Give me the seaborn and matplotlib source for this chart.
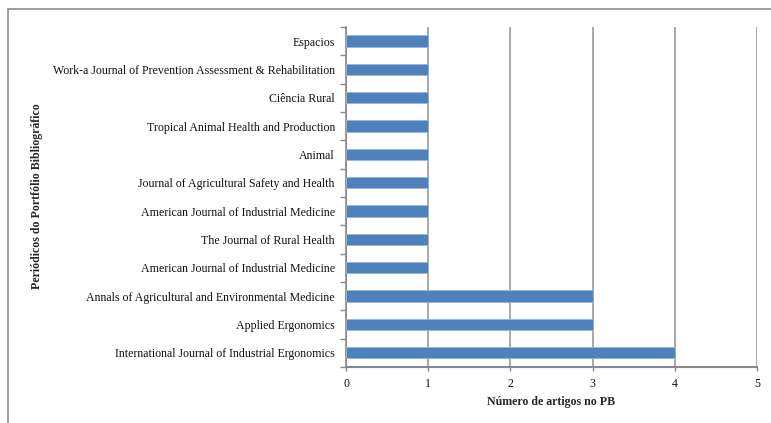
import pandas as pd
import matplotlib.pyplot as plt
import seaborn as sns
from matplotlib.patches import Rectangle
from matplotlib.ticker import FixedLocator

# Journals listed top to bottom as in the chart
journals = [
    "Espacios",
    "Work-a Journal of Prevention Assessment & Rehabilitation",
    "Ciência Rural",
    "Tropical Animal Health and Production",
    "Animal",
    "Journal of Agricultural Safety and Health",
    "American Journal of Industrial Medicine",
    "The Journal of Rural Health",
    "American Journal of Industrial Medicine",
    "Annals of Agricultural and Environmental Medicine",
    "Applied Ergonomics",
    "International Journal of Industrial Ergonomics",
]
articles = [1, 1, 1, 1, 1, 1, 1, 1, 1, 3, 3, 4]
x_ticks = [0, 1, 2, 3, 4, 5]

# a journal name shows up twice, so give each row its own key
df = pd.DataFrame({
    "key": [f"r{i}" for i in range(len(journals))],
    "journal": journals,
    "n": articles,
})

sns.set_style("white")
plt.rcParams["font.family"] = ["Liberation Serif", "DejaVu Serif"]
fs = 8.6

fig = plt.figure(figsize=(7.71, 4.23), dpi=100)
ax = fig.add_axes([0.4488, 0.1324, 0.5330, 0.8038])

sns.barplot(data=df, x="n", y="key", orient="h", color="#4F81BD",
            saturation=1, width=0.4, edgecolor="#9bb5d8", linewidth=0.6,
            zorder=3, ax=ax)

ax.set_yticks(range(len(journals)))
ax.set_yticklabels(journals, fontsize=fs, color="#111111")
ax.set_xlim(0, 5)
ax.set_ylim(len(journals) - 0.5, -0.5)
ax.set_xticks(x_ticks)
ax.set_xticklabels([str(t) for t in x_ticks], fontsize=fs, color="#111111")

# excel-like ticks between categories
ax.yaxis.set_minor_locator(FixedLocator([i - 0.5 for i in range(len(journals) + 1)]))
ax.tick_params(axis="y", which="major", length=0, pad=8)
ax.tick_params(axis="y", which="minor", length=4, width=1, color="#888888", left=True)
ax.tick_params(axis="x", which="major", length=3, width=1, color="#888888",
               bottom=True, pad=5)

ax.grid(axis="x", color="#9a9a9a", linewidth=1.2, zorder=0)
ax.set_axisbelow(True)

for side in ["top", "right"]:
    ax.spines[side].set_visible(False)
ax.spines["left"].set_color("#888888")
ax.spines["left"].set_linewidth(1.2)
ax.spines["bottom"].set_color("#888888")
ax.spines["bottom"].set_linewidth(1.5)

ax.set_xlabel("Número de artigos no PB", fontsize=fs, fontweight="bold", labelpad=4.5)
ax.set_ylabel("")
fig.text(37 / 771, 1 - 196 / 423, "Periódicos do Portfólio Bibliográfico",
         rotation=90, fontsize=fs, fontweight="bold", ha="center", va="center")

# outer chart frame, partly cut off at the right and bottom
frame = Rectangle((8 / 771, -0.1), 1.2, 1 - 9 / 423 + 0.1, transform=fig.transFigure,
                  fill=False, edgecolor="#8c8c8c", linewidth=1.2)
fig.patches.append(frame)

fig.savefig("out.png", dpi=100)
